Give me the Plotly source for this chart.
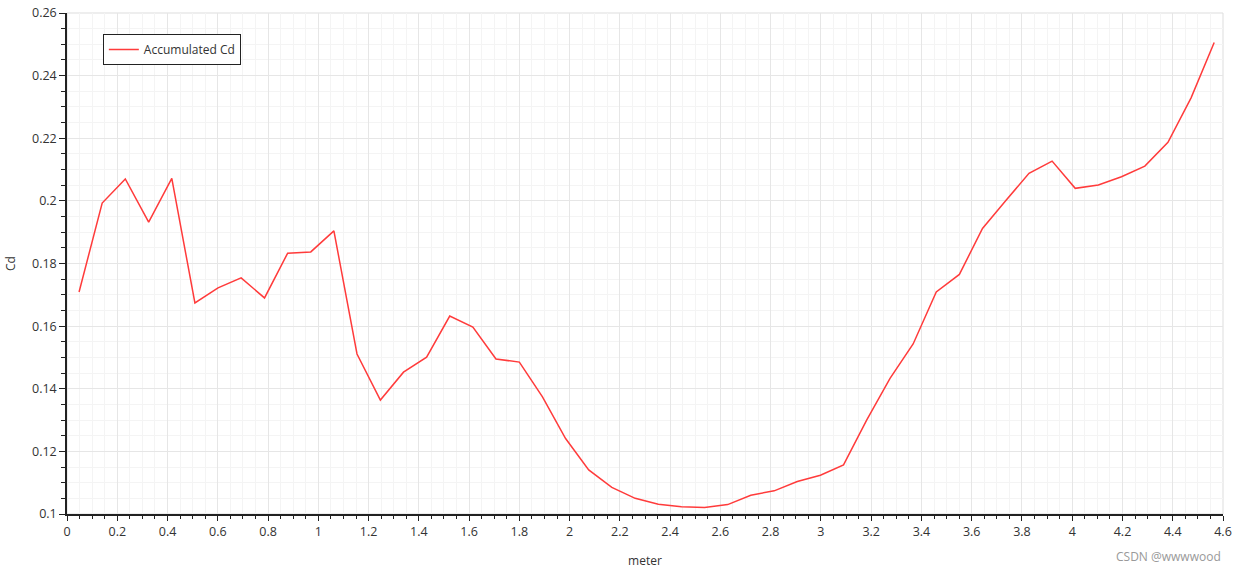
import plotly.graph_objects as go

meter = [0.048, 0.140, 0.232, 0.325, 0.417, 0.509, 0.601, 0.693, 0.786, 0.878,
         0.970, 1.062, 1.154, 1.247, 1.339, 1.431, 1.523, 1.615, 1.707, 1.800,
         1.892, 1.984, 2.076, 2.168, 2.261, 2.353, 2.445, 2.537, 2.629, 2.721,
         2.814, 2.906, 2.998, 3.090, 3.182, 3.275, 3.367, 3.459, 3.551, 3.643,
         3.736, 3.828, 3.920, 4.012, 4.104, 4.196, 4.289, 4.381, 4.473, 4.565]
cd = [0.1709, 0.1993, 0.2070, 0.1932, 0.2072, 0.1674, 0.1722, 0.1754, 0.1690, 0.1833,
      0.1837, 0.1904, 0.1511, 0.1364, 0.1453, 0.1501, 0.1632, 0.1597, 0.1495, 0.1485,
      0.1374, 0.1241, 0.1141, 0.1085, 0.1050, 0.1031, 0.1023, 0.1021, 0.1030, 0.1060,
      0.1074, 0.1104, 0.1124, 0.1157, 0.1300, 0.1433, 0.1543, 0.1709, 0.1765, 0.1912,
      0.2001, 0.2088, 0.2127, 0.2040, 0.2051, 0.2077, 0.2111, 0.2187, 0.2329, 0.2506]

series_name = "Accumulated Cd"
x_title = "meter"
y_title = "Cd"
watermark = "CSDN @wwwwood"

fig = go.Figure()
fig.add_trace(go.Scatter(x=meter, y=cd, mode="lines", name=series_name,
                         line=dict(color="#ff3b3b", width=1.5)))

font = "Open Sans, Noto Sans, DejaVu Sans, sans-serif"
fig.update_layout(
    width=1240, height=570,
    margin=dict(l=67, r=17, t=13, b=56),
    paper_bgcolor="white", plot_bgcolor="white",
    font=dict(family=font, size=12, color="#333333"),
    showlegend=True,
    legend=dict(x=0.031, y=0.958, xanchor="left", yanchor="top",
                bgcolor="white", bordercolor="#222222", borderwidth=1,
                font=dict(size=12, color="#333333"), itemwidth=30,
                tracegroupgap=0),
    annotations=[dict(text=watermark, xref="paper", yref="paper",
                      x=1.0, y=-0.084, xanchor="right", yanchor="middle",
                      showarrow=False, font=dict(size=12, color="#999999"))],
)
fig.update_xaxes(
    range=[0, 4.6], dtick=0.2, tick0=0, automargin=False,
    showline=True, linecolor="#222222", linewidth=1.5,
    ticks="outside", ticklen=5, tickcolor="#222222", tickwidth=1,
    showgrid=True, gridcolor="#e6e6e6", gridwidth=1,
    zeroline=False,
    minor=dict(dtick=0.05, ticks="outside", ticklen=3, tickcolor="#222222",
               showgrid=True, gridcolor="#f4f4f4", gridwidth=1),
    title=dict(text=x_title, font=dict(size=12, color="#333333"), standoff=18),
    tickfont=dict(size=12.5, color="#333333"),
)
fig.update_yaxes(
    range=[0.1, 0.26], dtick=0.02, tick0=0.1, automargin=False,
    showline=True, linecolor="#222222", linewidth=1.5,
    ticks="outside", ticklen=6, tickcolor="#222222", tickwidth=1,
    showgrid=True, gridcolor="#e6e6e6", gridwidth=1,
    zeroline=False,
    minor=dict(dtick=0.005, ticks="outside", ticklen=4, tickcolor="#222222",
               showgrid=True, gridcolor="#f4f4f4", gridwidth=1),
    title=dict(text=y_title, font=dict(size=12, color="#333333"), standoff=14),
    tickfont=dict(size=12.5, color="#333333"),
)
fig.add_shape(type="rect", xref="paper", yref="paper", x0=0, y0=0, x1=1, y1=1,
              line=dict(color="#dddddd", width=1), layer="below")

fig.write_html("out.html",
               config={"displayModeBar": False},
               post_script="document.body.style.margin='0px';document.body.style.overflow='hidden';")
